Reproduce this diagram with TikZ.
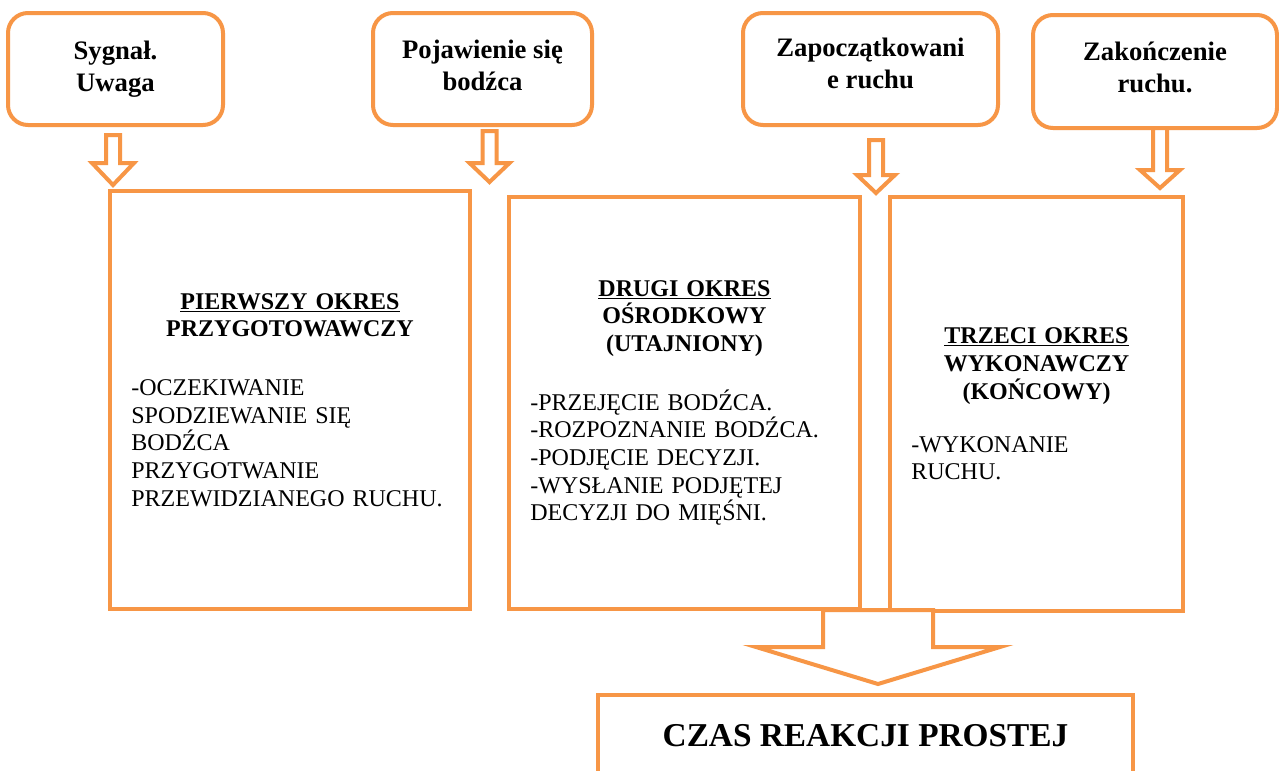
\documentclass[tikz,border=0pt]{standalone}
\usepackage{fontspec}
\setmainfont{Liberation Serif}
\usetikzlibrary{calc}
\definecolor{okresorange}{HTML}{F79646}

% hollow block arrow pointing down: style, top point, half shaft, shaft length, half head, head length
\newcommand{\hollowdown}[6]{%
  \draw[#1] #2 ++(-#3,0) -- ++(0,#4) -- ++({#3-#5},0) -- ++(#5,#6) -- ++(#5,-#6) -- ++({#3-#5},0) -- ++(0,-#4) -- cycle;}

\begin{document}
\begin{tikzpicture}[x=0.75pt,y=-0.75pt,
    topbox/.style={draw=okresorange, line width=3pt, rounded corners=15pt, outer sep=0pt,
      align=center, minimum height=84pt, font=\fontsize{20pt}{24pt}\selectfont\bfseries},
    okresbox/.style={draw=okresorange, line width=3pt, outer sep=0pt, align=left,
      inner xsep=16pt, font=\fontsize{18pt}{20.8pt}\selectfont},
    arrowline/.style={draw=okresorange, line width=3pt, fill=white}]
  \path[use as bounding box, fill=white] (0,0) rectangle (1279,771);

  % momenty
  \node[topbox, minimum width=161.25pt] (sygnal) at (115.5,69) {Sygnał.\\Uwaga};
  \node[topbox, minimum width=164.25pt] (bodziec) at (482.5,69) {Pojawienie się\\bodźca\rule[-6pt]{0pt}{6pt}};
  \node[topbox, minimum width=191.25pt] (poczatek) at (870.5,69) {Zapoczątkowani\\e ruchu\rule[-9pt]{0pt}{9pt}};
  \node[topbox, minimum width=183pt, minimum height=84.75pt] (koniec) at (1155,71.5) {Zakończenie\\ruchu.\rule[-7pt]{0pt}{7pt}};

  % okresy
  \node[okresbox, minimum width=270pt, minimum height=313.5pt, text width=238pt] (okres1) at (290,400)
    {{\centering\bfseries\underline{PIERWSZY OKRES}\\PRZYGOTOWAWCZY\par}\vspace{23pt}
     -OCZEKIWANIE\\SPODZIEWANIE SIĘ\\BODŹCA\\PRZYGOTWANIE\\PRZEWIDZIANEGO RUCHU.};
  \node[okresbox, minimum width=263.25pt, minimum height=309pt, text width=231.25pt] (okres2) at (684.5,403)
    {{\centering\bfseries\underline{DRUGI OKRES}\\OŚRODKOWY\\(UTAJNIONY)\par}\vspace{23pt}
     -PRZEJĘCIE BODŹCA.\\-ROZPOZNANIE BODŹCA.\\-PODJĘCIE DECYZJI.\\-WYSŁANIE PODJĘTEJ\\DECYZJI DO MIĘŚNI.};
  \node[okresbox, minimum width=219.75pt, minimum height=310.5pt, text width=187.75pt] (okres3) at (1036.5,404)
    {{\centering\bfseries\underline{TRZECI OKRES}\\WYKONAWCZY\\(KOŃCOWY)\par}\vspace{19pt}
     -WYKONANIE\\RUCHU.};

  \node[draw=okresorange, line width=3pt, outer sep=0pt, minimum width=401.25pt, minimum height=61.5pt,
    font=\fontsize{25pt}{30pt}\selectfont\bfseries] (czas) at (865.5,736) {CZAS REAKCJI PROSTEJ};

  % strzalki
  \hollowdown{arrowline}{($(sygnal.south)+(-2.5,10)$)}{7}{28}{21}{22}
  \hollowdown{arrowline}{($(bodziec.south)+(7,6)$)}{7}{32}{20}{19}
  \hollowdown{arrowline}{($(poczatek.south)+(5.5,15)$)}{7}{35}{19}{18}
  \hollowdown{arrowline}{($(koniec.south)+(5,0)$)}{7}{42}{20}{18}
  \hollowdown{arrowline}{($(okres2.south east)!0.5!(okres3.south west)+(3,0)$)}{55}{37}{122}{37}
\end{tikzpicture}
\end{document}
